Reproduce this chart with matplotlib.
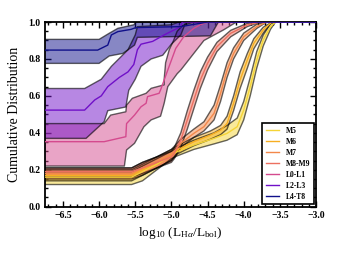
import numpy as np
import matplotlib
matplotlib.use("Agg")
import matplotlib.pyplot as plt
from matplotlib.ticker import MultipleLocator

plt.rcParams['font.family'] = ['Liberation Serif', 'DejaVu Serif']
plt.rcParams['mathtext.fontset'] = 'custom'
plt.rcParams['mathtext.rm'] = 'Liberation Serif'
plt.rcParams['mathtext.it'] = 'Liberation Serif:italic'
plt.rcParams['mathtext.bf'] = 'Liberation Serif:bold'

labels = ['M5', 'M6', 'M7', 'M8-M9', 'L0-L1', 'L2-L3', 'L4-T8']
colors = ['#f5d436', '#f7ae22', '#f3884a', '#ec7060', '#d44a8e', '#7010c8', '#10108a']

# ---- M types (common x grid per class) ----
m5_x = [-6.75, -5.55, -5.4, -5.2, -5.0, -4.92, -4.69, -4.41, -4.23, -4.09, -4.0, -3.91, -3.82, -3.73, -3.63, -3.56, -3.0]
m5_mid = [0.16, 0.16, 0.19, 0.23, 0.28, 0.298, 0.334, 0.37, 0.397, 0.433, 0.523, 0.65, 0.794, 0.903, 0.975, 1.0, 1.0]
m5_lo = [0.12, 0.12, 0.14, 0.20, 0.26, 0.275, 0.31, 0.34, 0.36, 0.39, 0.47, 0.60, 0.75, 0.87, 0.96, 1.0, 1.0]
m5_hi = [0.19, 0.19, 0.22, 0.26, 0.30, 0.32, 0.36, 0.40, 0.44, 0.48, 0.57, 0.70, 0.84, 0.93, 0.99, 1.0, 1.0]

m6_x = [-6.75, -5.55, -5.4, -5.2, -5.0, -4.92, -4.69, -4.46, -4.32, -4.23, -4.14, -4.05, -3.95, -3.86, -3.73, -3.61, -3.0]
m6_mid = [0.17, 0.17, 0.20, 0.24, 0.28, 0.307, 0.352, 0.388, 0.415, 0.451, 0.56, 0.686, 0.794, 0.885, 0.957, 1.0, 1.0]
m6_lo = [0.14, 0.14, 0.17, 0.21, 0.25, 0.285, 0.33, 0.365, 0.39, 0.42, 0.52, 0.64, 0.75, 0.855, 0.94, 1.0, 1.0]
m6_hi = [0.20, 0.20, 0.23, 0.27, 0.31, 0.33, 0.375, 0.41, 0.44, 0.49, 0.60, 0.73, 0.83, 0.91, 0.972, 1.0, 1.0]

m7_x = [-6.75, -5.55, -5.4, -5.2, -5.0, -4.87, -4.69, -4.55, -4.41, -4.32, -4.23, -4.14, -4.0, -3.82, -3.68, -3.0]
m7_mid = [0.18, 0.18, 0.21, 0.24, 0.28, 0.343, 0.397, 0.433, 0.506, 0.614, 0.74, 0.83, 0.92, 0.975, 1.0, 1.0]
m7_lo = [0.15, 0.15, 0.17, 0.21, 0.25, 0.32, 0.375, 0.41, 0.47, 0.57, 0.70, 0.80, 0.90, 0.965, 1.0, 1.0]
m7_hi = [0.21, 0.21, 0.24, 0.27, 0.31, 0.365, 0.42, 0.46, 0.55, 0.66, 0.78, 0.86, 0.94, 0.988, 1.0, 1.0]

m89_x = [-6.75, -5.55, -5.4, -5.2, -5.0, -4.96, -4.87, -4.78, -4.69, -4.6, -4.5, -4.37, -4.18, -3.95, -3.77, -3.0]
m89_mid = [0.19, 0.19, 0.21, 0.24, 0.27, 0.29, 0.361, 0.47, 0.578, 0.686, 0.776, 0.866, 0.939, 0.984, 1.0, 1.0]
m89_lo = [0.16, 0.16, 0.18, 0.21, 0.24, 0.26, 0.32, 0.42, 0.53, 0.64, 0.74, 0.84, 0.92, 0.975, 1.0, 1.0]
m89_hi = [0.21, 0.21, 0.24, 0.27, 0.30, 0.32, 0.40, 0.52, 0.63, 0.73, 0.81, 0.89, 0.955, 0.993, 1.0, 1.0]

# ---- L/T types (separate x for line, lower and upper edges) ----
l01_x = [-6.75, -5.93, -5.63, -5.62, -5.51, -5.42, -5.35, -5.33, -5.17, -5.15, -5.05, -4.94, -4.83, -4.69, -4.6, -4.5, -3.0]
l01_y = [0.352, 0.352, 0.379, 0.45, 0.496, 0.541, 0.56, 0.596, 0.614, 0.632, 0.74, 0.857, 0.92, 0.966, 0.985, 1.0, 1.0]
l01_hi_x = [-6.75, -5.93, -5.84, -5.63, -5.62, -5.54, -5.35, -5.28, -5.1, -5.1, -5.08, -5.03, -4.97, -4.92, -4.85, -4.7, -3.0]
l01_hi_y = [0.45, 0.45, 0.496, 0.514, 0.55, 0.587, 0.614, 0.641, 0.66, 0.69, 0.78, 0.85, 0.90, 0.95, 0.98, 1.0, 1.0]
l01_lo_x = [-6.75, -5.65, -5.62, -5.51, -5.38, -5.28, -5.15, -5.1, -5.05, -4.92, -4.87, -4.73, -4.55, -4.28, -4.1, -3.0]
l01_lo_y = [0.22, 0.22, 0.307, 0.343, 0.433, 0.47, 0.49, 0.56, 0.65, 0.72, 0.74, 0.81, 0.90, 0.957, 1.0, 1.0]

l23_x = [-6.75, -6.2, -6.06, -5.97, -5.88, -5.72, -5.6, -5.52, -5.47, -5.42, -5.26, -5.1, -5.05, -4.87, -4.85, -3.0]
l23_y = [0.523, 0.523, 0.578, 0.60, 0.65, 0.70, 0.73, 0.77, 0.85, 0.88, 0.895, 0.93, 0.94, 0.975, 1.0, 1.0]
l23_hi_x = [-6.75, -6.2, -5.97, -5.83, -5.6, -5.5, -5.47, -5.0, -4.9, -3.0]
l23_hi_y = [0.64, 0.64, 0.69, 0.76, 0.85, 0.93, 0.975, 0.985, 1.0, 1.0]
l23_lo_x = [-6.75, -6.18, -5.93, -5.88, -5.63, -5.59, -5.5, -5.42, -5.28, -5.12, -5.0, -4.87, -4.8, -3.0]
l23_lo_y = [0.37, 0.37, 0.46, 0.52, 0.54, 0.63, 0.69, 0.76, 0.80, 0.82, 0.88, 0.93, 1.0, 1.0]

l4t8_x = [-6.75, -6.02, -5.88, -5.83, -5.74, -5.56, -5.49, -4.87, -4.5, -3.0]
l4t8_y = [0.848, 0.848, 0.875, 0.93, 0.948, 0.96, 0.97, 0.975, 1.0, 1.0]
l4t8_hi_x = [-6.75, -6.0, -5.86, -5.74, -5.52, -5.49, -3.0]
l4t8_hi_y = [0.906, 0.906, 0.939, 0.966, 0.985, 1.0, 1.0]
l4t8_lo_x = [-6.75, -6.0, -5.86, -5.67, -5.51, -5.47, -4.46, -4.35, -3.0]
l4t8_lo_y = [0.776, 0.776, 0.816, 0.83, 0.875, 0.917, 0.925, 1.0, 1.0]

series = [
    (m5_x, m5_mid, m5_x, m5_lo, m5_x, m5_hi),
    (m6_x, m6_mid, m6_x, m6_lo, m6_x, m6_hi),
    (m7_x, m7_mid, m7_x, m7_lo, m7_x, m7_hi),
    (m89_x, m89_mid, m89_x, m89_lo, m89_x, m89_hi),
    (l01_x, l01_y, l01_lo_x, l01_lo_y, l01_hi_x, l01_hi_y),
    (l23_x, l23_y, l23_lo_x, l23_lo_y, l23_hi_x, l23_hi_y),
    (l4t8_x, l4t8_y, l4t8_lo_x, l4t8_lo_y, l4t8_hi_x, l4t8_hi_y),
]

fig = plt.figure(figsize=(3.45, 2.59), dpi=100)
ax = fig.add_axes([0.130, 0.202, 0.786, 0.713])

for lab, col, (x, y, lx, ly, hx, hy) in zip(labels, colors, series):
    px = list(hx) + list(lx)[::-1]
    py = list(hy) + list(ly)[::-1]
    ax.fill(px, py, facecolor=col, alpha=0.5, edgecolor='none', zorder=2)
    ax.plot(hx, hy, color='black', alpha=0.6, lw=1.0, zorder=2.5)
    ax.plot(lx, ly, color='black', alpha=0.6, lw=1.0, zorder=2.5)
    ax.plot(x, y, color=col, lw=1.0, label=lab, zorder=3)

ax.set_xlim(-6.75, -3.0)
ax.set_ylim(0.0, 1.0)
ax.xaxis.set_major_locator(MultipleLocator(0.5))
ax.xaxis.set_minor_locator(MultipleLocator(0.1))
ax.yaxis.set_major_locator(MultipleLocator(0.2))
ax.yaxis.set_minor_locator(MultipleLocator(0.05))
ax.tick_params(which='both', direction='in', top=True, right=True, width=1.0)
ax.tick_params(which='major', length=4, labelsize=7, pad=3)
ax.tick_params(which='minor', length=2)
for lbl in ax.get_xticklabels() + ax.get_yticklabels():
    lbl.set_fontweight('bold')
for sp in ax.spines.values():
    sp.set_linewidth(1.3)

ax.set_xlabel(r'log$_{10}$ (L$_{\mathrm{H}\alpha}$/L$_{\mathrm{bol}}$)', fontsize=9.5, labelpad=4)
ax.set_ylabel('Cumulative Distribution', fontsize=10, labelpad=5)

leg = ax.legend(loc='lower right', prop={'weight': 'bold', 'size': 5.5}, frameon=True,
                fancybox=False, handlelength=1.8, borderaxespad=0.3, labelspacing=0.38,
                borderpad=0.5, handletextpad=0.8)
leg.get_frame().set_edgecolor('black')
leg.get_frame().set_linewidth(1.2)
leg.get_frame().set_alpha(1)
leg.set_zorder(5)

fig.savefig('out.png', dpi=100)
